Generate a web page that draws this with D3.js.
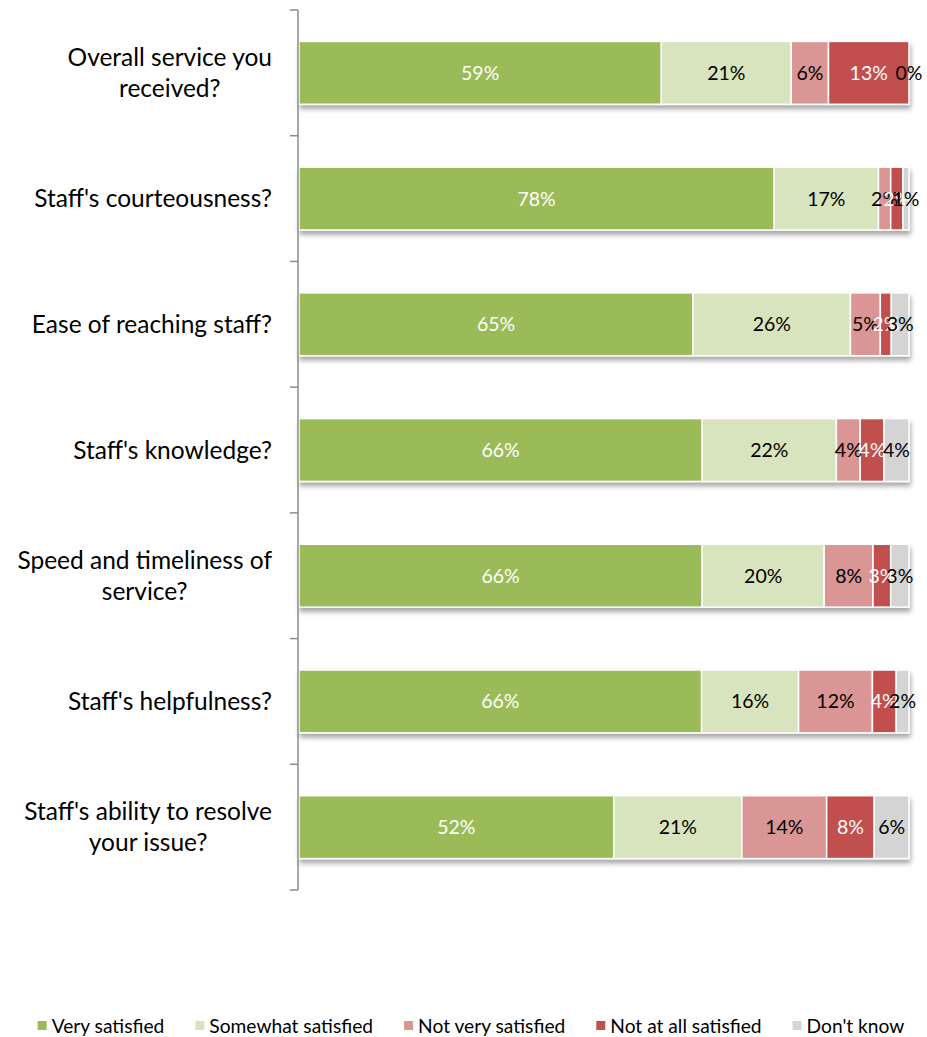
<!DOCTYPE html>
<html>
<head>
<meta charset="utf-8">
<script src="https://cdn.jsdelivr.net/npm/d3@7"></script>
<style>
  html, body { margin: 0; padding: 0; background: #fff; }
  svg { display: block; font-family: Lato, "Open Sans", sans-serif; }
</style>
</head>
<body>
<svg id="chart" width="927" height="1037"></svg>
<script>
// ---- data ----
const categories = [
  "Overall service you received?",
  "Staff's courteousness?",
  "Ease of reaching staff?",
  "Staff's knowledge?",
  "Speed and timeliness of service?",
  "Staff's helpfulness?",
  "Staff's ability to resolve your issue?"
];
const categoryLines = [
  ["Overall service you", "received?"],
  ["Staff's courteousness?"],
  ["Ease of reaching staff?"],
  ["Staff's knowledge?"],
  ["Speed and timeliness of", "service?"],
  ["Staff's helpfulness?"],
  ["Staff's ability to resolve", "your issue?"]
];
const seriesNames = ["Very satisfied", "Somewhat satisfied", "Not very satisfied", "Not at all satisfied", "Don't know"];
const verySatisfied     = [59.4, 77.9, 64.6, 66.1, 66.1, 66.0, 51.6];
const somewhatSatisfied = [21.3, 17.1, 25.8, 22.0, 20.0, 15.9, 21.0];
const notVerySatisfied  = [6.1, 2.0, 4.9, 3.9, 8.0, 12.1, 13.9];
const notAtAllSatisfied = [13.2, 2.0, 1.8, 3.9, 2.9, 3.9, 7.8];
const dontKnow          = [0.0, 1.0, 2.9, 4.1, 3.0, 2.1, 5.7];
const seriesColors = ["#9BBB59", "#D7E4BD", "#D99694", "#C0504D", "#D4D4D4"];
const labelColors  = ["#ffffff", "#000000", "#000000", "#ffffff", "#000000"];

// ---- layout ----
const svg = d3.select("#chart");
const plotLeft = 299, plotRight = 909, plotTop = 10, plotBottom = 890;

const x = d3.scaleLinear().domain([0, 100]).range([plotLeft, plotRight]);
const y = d3.scaleBand().domain(categories).range([plotTop, plotBottom])
  .paddingInner(0.5).paddingOuter(0.25);

const rows = categories.map((c, i) => {
  const vals = [verySatisfied[i], somewhatSatisfied[i], notVerySatisfied[i], notAtAllSatisfied[i], dontKnow[i]];
  let acc = 0;
  return { cat: c, i, segs: vals.map((v, k) => { const s = { k, v, x0: acc, x1: acc + v }; acc += v; return s; }) };
});

// shadow filter
const defs = svg.append("defs");
const f = defs.append("filter").attr("id", "shadow").attr("x", "-5%").attr("y", "-20%").attr("width", "110%").attr("height", "160%");
f.append("feDropShadow").attr("dx", 1).attr("dy", 4).attr("stdDeviation", 2.5)
  .attr("flood-color", "#000").attr("flood-opacity", 0.35);

// bars
const rowG = svg.append("g").selectAll("g.row").data(rows).join("g").attr("class", "row");
rowG.append("g").attr("filter", "url(#shadow)")
  .selectAll("rect").data(d => d.segs.map(s => ({ ...s, cat: d.cat }))).join("rect")
  .attr("x", s => x(s.x0))
  .attr("y", s => y(s.cat))
  .attr("width", s => Math.max(0, x(s.x1) - x(s.x0)))
  .attr("height", y.bandwidth())
  .attr("fill", s => seriesColors[s.k])
  .attr("stroke", "#fff").attr("stroke-width", 1.5);

// segment labels
rowG.append("g").selectAll("text").data(d => d.segs.map(s => ({ ...s, cat: d.cat }))).join("text")
  .attr("x", s => (x(s.x0) + x(s.x1)) / 2)
  .attr("y", s => y(s.cat) + y.bandwidth() / 2)
  .attr("dy", "0.36em")
  .attr("text-anchor", "middle")
  .attr("font-size", 19.5)
  .attr("fill", s => labelColors[s.k])
  .text(s => Math.round(s.v) + "%");

// axis
const step = y.step();
const axisG = svg.append("g").attr("stroke", "#8c8c8c").attr("stroke-width", 1.5);
axisG.append("line").attr("x1", plotLeft - 1).attr("x2", plotLeft - 1).attr("y1", plotTop).attr("y2", plotBottom);
const boundaries = categories.map(c => y(c) - step * 0.25).concat([y(categories[categories.length - 1]) + y.bandwidth() + step * 0.25]);
axisG.selectAll("line.tick").data(boundaries).join("line").attr("class", "tick")
  .attr("x1", plotLeft - 9).attr("x2", plotLeft - 1).attr("y1", d => d).attr("y2", d => d);

// category labels
const catG = svg.append("g");
categories.forEach((c, i) => {
  const lines = categoryLines[i];
  const cy = y(c) + y.bandwidth() / 2;
  const lh = 31;
  const g = catG.append("g");
  const texts = g.selectAll("text").data(lines).join("text")
    .attr("font-size", 24.5)
    .attr("fill", "#000")
    .attr("text-anchor", "middle")
    .attr("y", (d, j) => cy + (j - (lines.length - 1) / 2) * lh)
    .attr("dy", "0.36em")
    .text(d => d);
  const w = d3.max(texts.nodes(), n => n.getComputedTextLength());
  texts.attr("x", 272 - w / 2);
});

// legend
const legend = svg.append("g").attr("transform", "translate(0,1026)");
const items = legend.selectAll("g").data(seriesNames).join("g");
items.append("rect").attr("width", 9).attr("height", 9).attr("y", -5).attr("fill", (d, k) => seriesColors[k]);
items.append("text").attr("x", 14).attr("dy", "0.36em").attr("font-size", 19.2).attr("fill", "#000").text(d => d);
let lx = 0;
const pos = [];
items.each(function () {
  const w = d3.select(this).select("text").node().getComputedTextLength() + 14;
  pos.push(lx);
  lx += w + 31;
});
const totalW = lx - 31;
const startX = 471 - totalW / 2;
items.attr("transform", (d, k) => `translate(${startX + pos[k]},0)`);
</script>
</body>
</html>
